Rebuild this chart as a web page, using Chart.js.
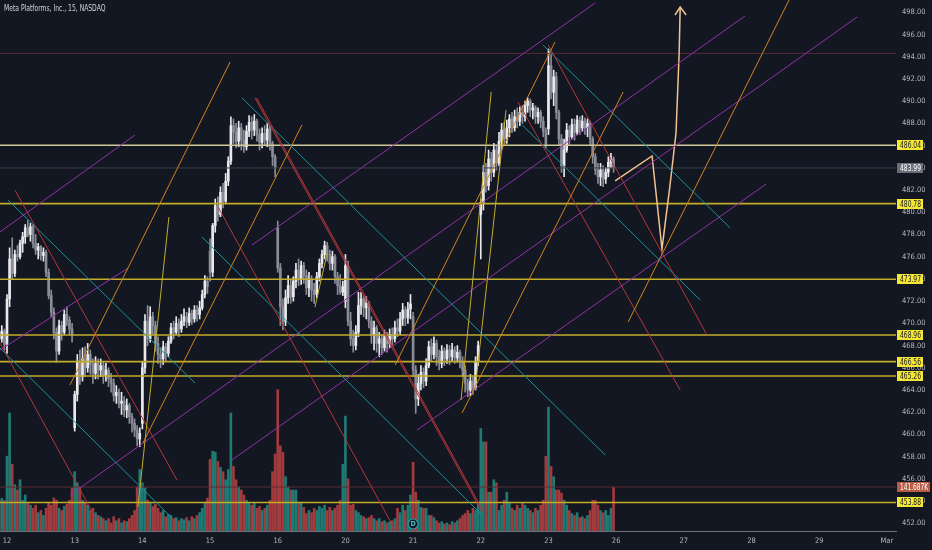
<!DOCTYPE html>
<html>
<head>
<meta charset="utf-8">
<script src="https://cdn.jsdelivr.net/npm/chart.js@4.4.1/dist/chart.umd.min.js"></script>
<style>
  html, body { margin: 0; padding: 0; background: #131722; }
  #wrap { position: relative; width: 932px; height: 550px; }
  #title { position: absolute; left: 4px; top: 4px; font: 8px 'Liberation Sans Narrow', 'DejaVu Sans Condensed', 'Liberation Sans', sans-serif; color: #d1d4dc; transform: scaleX(0.84); transform-origin: left top; white-space: nowrap; }
</style>
</head>
<body>
<div id="wrap">
  <canvas id="myChart" width="932" height="550"></canvas>
  <div id="title">Meta Platforms, Inc., 15, NASDAQ</div>
</div>
<script>
// 15 min bars: last 3 bars of 9 Feb, then 12-23 Feb (26 bars a day)
const opens = [
  469.2, 468.6, 469.3,
  468.2, 472.2, 475.8, 474.5, 476.2, 476.0, 477.2, 477.8, 478.6, 478.0, 478.7, 477.2, 476.6, 476.9, 476.1, 476.4, 474.6, 472.5, 471.0, 469.2, 467.5, 469.8, 469.2, 470.8, 470.3, 469.5,
  460.6, 463.6, 466.6, 465.2, 466.8, 466.0, 467.2, 466.3, 465.5, 466.4, 465.8, 466.2, 465.3, 465.8, 465.0, 464.6, 463.5, 463.8, 462.8, 463.0, 462.2, 462.6, 461.6, 461.0, 460.4, 459.6,
  461.0, 466.0, 470.2, 468.6, 470.6, 469.8, 468.2, 467.2, 466.8, 467.9, 467.3, 468.4, 469.6, 469.2, 470.0, 469.5, 470.2, 470.6, 470.1, 470.9, 470.4, 471.2, 470.8, 471.4, 472.6, 473.8,
  476.5, 474.6, 478.8, 480.6, 479.8, 481.8, 481.0, 482.8, 484.6, 487.8, 487.2, 486.4, 487.6, 486.5, 485.9, 487.3, 488.1, 487.4, 488.2, 487.0, 486.3, 487.1, 486.5, 487.5, 486.2, 485.0,
  478.6, 475.0, 471.5, 470.2, 472.3, 473.4, 472.4, 473.8, 474.8, 474.0, 475.2, 474.3, 473.2, 474.0, 473.0, 472.6, 474.2, 475.4, 476.2, 477.0, 476.2, 475.4, 476.0, 474.2, 473.4, 472.8,
  472.0, 475.2, 470.2, 468.6, 468.0, 469.2, 471.6, 472.2, 471.4, 471.8, 470.2, 469.0, 469.6, 468.2, 468.6, 467.8, 468.8, 468.2, 469.0, 468.6, 469.6, 469.3, 470.4, 471.2, 470.5, 471.3,
  470.6, 465.8, 463.2, 464.6, 465.6, 464.8, 466.2, 467.9, 467.2, 468.2, 467.0, 466.4, 467.5, 466.8, 467.6, 467.0, 467.6, 466.9, 467.4, 466.6, 465.8, 464.6, 464.0, 464.8, 464.2, 466.6,
  479.8, 480.9, 483.6, 482.4, 484.8, 483.6, 485.6, 484.4, 486.4, 487.4, 486.6, 487.6, 488.4, 487.6, 488.6, 488.2, 489.0, 488.6, 489.6, 490.0, 489.2, 489.4, 488.6, 489.0, 488.2, 487.3,
  487.5, 493.2, 490.8, 492.2, 489.0, 486.6, 484.2, 485.6, 487.4, 486.8, 487.9, 487.2, 488.3, 487.6, 488.2, 487.6, 488.0, 486.6, 485.0, 483.8, 483.2, 483.8, 483.0, 483.6, 484.5, 484.8
]
const highs = [
  470.0, 469.8, 469.5,
  472.6, 476.8, 477.7, 476.6, 477.0, 477.5, 478.2, 478.9, 479.3, 479.0, 478.9, 478.0, 477.2, 477.0, 476.8, 476.6, 474.9, 473.0, 471.4, 469.6, 470.3, 470.2, 471.2, 471.5, 470.6, 470.0,
  463.9, 467.2, 467.6, 467.8, 467.9, 468.2, 467.6, 466.8, 467.0, 466.8, 466.8, 466.5, 466.4, 466.0, 465.5, 465.0, 464.4, 464.1, 463.8, 463.4, 463.2, 462.8, 461.9, 461.4, 460.8, 460.6,
  466.5, 470.8, 471.6, 471.5, 471.0, 470.2, 468.8, 467.8, 468.4, 468.2, 468.8, 470.0, 470.2, 470.6, 470.4, 470.8, 471.3, 471.0, 471.4, 471.2, 471.6, 471.6, 472.0, 473.0, 474.3, 474.2,
  477.6, 479.0, 481.2, 481.4, 482.3, 482.6, 483.5, 485.0, 488.6, 488.4, 488.0, 488.2, 488.0, 487.4, 487.8, 488.7, 488.6, 488.8, 488.4, 487.5, 487.6, 487.8, 488.0, 487.8, 486.4, 485.2,
  479.2, 475.4, 472.2, 473.0, 474.3, 474.0, 474.2, 475.4, 475.8, 475.6, 475.5, 474.8, 474.6, 474.3, 473.6, 474.6, 475.8, 476.6, 477.4, 477.3, 476.6, 476.5, 476.2, 474.6, 474.4, 473.8,
  476.2, 475.6, 471.0, 469.4, 469.8, 472.8, 472.8, 472.5, 472.4, 472.0, 470.6, 470.2, 469.8, 469.2, 469.0, 469.4, 469.2, 469.5, 469.6, 470.2, 470.4, 471.0, 471.8, 471.5, 471.9, 472.6,
  471.0, 466.2, 465.4, 466.2, 466.0, 466.8, 468.4, 468.6, 468.8, 468.5, 467.6, 468.0, 467.8, 468.1, 468.0, 468.2, 467.9, 468.0, 467.6, 467.0, 466.2, 465.0, 465.4, 465.2, 467.0, 468.4,
  481.2, 484.2, 484.4, 485.6, 485.4, 486.2, 486.0, 487.2, 488.0, 488.1, 488.3, 488.8, 489.0, 489.2, 489.4, 489.5, 489.6, 490.0, 490.3, 490.2, 489.8, 489.6, 489.4, 489.2, 488.6, 487.6,
  494.7, 494.2, 492.8, 492.6, 489.2, 487.0, 486.6, 488.0, 487.8, 488.4, 488.4, 488.7, 488.6, 488.7, 488.5, 488.4, 488.2, 486.8, 485.3, 484.4, 484.4, 484.2, 484.0, 485.0, 485.3, 485.0
]
const lows = [
  468.4, 468.3, 467.6,
  467.3, 471.5, 474.0, 474.2, 475.6, 475.8, 476.4, 477.2, 477.8, 477.4, 476.8, 476.2, 475.8, 475.7, 475.6, 474.2, 472.2, 470.6, 468.6, 466.5, 467.2, 468.5, 469.0, 469.8, 469.0, 468.3,
  460.3, 463.0, 464.5, 464.8, 465.2, 465.6, 465.4, 464.6, 465.0, 465.0, 465.2, 464.6, 464.8, 464.3, 463.8, 463.0, 462.8, 462.4, 461.8, 461.6, 461.5, 461.0, 460.2, 459.8, 459.0, 458.9,
  460.5, 465.5, 468.0, 468.3, 469.0, 467.5, 466.4, 466.0, 466.3, 466.6, 467.0, 468.2, 468.6, 469.0, 468.8, 469.2, 469.8, 469.6, 469.8, 469.9, 470.1, 470.2, 470.4, 471.2, 472.3, 472.7,
  473.8, 474.2, 478.2, 479.2, 479.6, 480.4, 480.8, 482.4, 484.3, 486.2, 485.8, 485.9, 485.6, 485.4, 485.6, 486.8, 486.6, 486.9, 486.4, 485.6, 485.8, 486.0, 485.9, 485.6, 484.2, 483.2,
  474.6, 469.8, 469.4, 469.8, 471.8, 471.8, 472.0, 473.2, 473.4, 473.5, 473.6, 472.6, 472.4, 472.0, 471.8, 472.3, 473.8, 475.0, 475.8, 475.6, 474.8, 474.8, 473.6, 472.6, 472.6, 472.5,
  471.4, 469.8, 468.0, 467.4, 467.6, 468.8, 470.8, 470.6, 470.4, 469.6, 468.2, 467.6, 467.4, 467.0, 467.2, 467.5, 467.4, 467.8, 468.0, 468.3, 468.8, 469.0, 469.8, 469.8, 470.0, 470.4,
  465.2, 461.9, 462.6, 464.0, 464.2, 464.4, 466.0, 466.6, 466.8, 466.2, 465.8, 466.0, 466.2, 466.4, 466.3, 466.6, 466.4, 466.5, 466.0, 465.2, 463.8, 463.4, 463.5, 463.6, 464.0, 466.2,
  475.8, 480.2, 481.8, 482.0, 482.8, 483.2, 483.8, 484.2, 485.6, 486.0, 486.2, 486.8, 487.2, 487.3, 487.6, 487.8, 488.0, 488.2, 489.0, 488.6, 488.4, 488.0, 488.0, 487.6, 486.8, 485.8,
  487.0, 490.2, 489.6, 488.4, 486.0, 483.6, 483.2, 485.4, 486.1, 486.6, 486.5, 487.0, 487.0, 487.3, 487.0, 486.8, 486.0, 484.4, 483.4, 482.6, 482.4, 482.3, 482.6, 483.2, 484.0, 483.6
]
const closes = [
  468.6, 469.3, 468.1,
  472.2, 475.8, 474.5, 476.2, 476.0, 477.2, 477.8, 478.6, 478.0, 478.7, 477.2, 476.6, 476.9, 476.1, 476.4, 474.6, 472.5, 471.0, 469.2, 467.5, 469.8, 469.2, 470.8, 470.3, 469.5, 468.9,
  463.6, 466.6, 465.2, 466.8, 466.0, 467.2, 466.3, 465.5, 466.4, 465.8, 466.2, 465.3, 465.8, 465.0, 464.6, 463.5, 463.8, 462.8, 463.0, 462.2, 462.6, 461.6, 461.0, 460.4, 459.6, 460.1,
  466.0, 470.2, 468.6, 470.6, 469.8, 468.2, 467.2, 466.8, 467.9, 467.3, 468.4, 469.6, 469.2, 470.0, 469.5, 470.2, 470.6, 470.1, 470.9, 470.4, 471.2, 470.8, 471.4, 472.6, 473.8, 473.3,
  474.6, 478.8, 480.6, 479.8, 481.8, 481.0, 482.8, 484.6, 487.8, 487.2, 486.4, 487.6, 486.5, 485.9, 487.3, 488.1, 487.4, 488.2, 487.0, 486.3, 487.1, 486.5, 487.5, 486.2, 485.0, 484.0,
  475.0, 471.5, 470.2, 472.3, 473.4, 472.4, 473.8, 474.8, 474.0, 475.2, 474.3, 473.2, 474.0, 473.0, 472.6, 474.2, 475.4, 476.2, 477.0, 476.2, 475.4, 476.0, 474.2, 473.4, 472.8, 473.3,
  475.2, 470.2, 468.6, 468.0, 469.2, 471.6, 472.2, 471.4, 471.8, 470.2, 469.0, 469.6, 468.2, 468.6, 467.8, 468.8, 468.2, 469.0, 468.6, 469.6, 469.3, 470.4, 471.2, 470.5, 471.3, 471.75,
  465.8, 463.2, 464.6, 465.6, 464.8, 466.2, 467.9, 467.2, 468.2, 467.0, 466.4, 467.5, 466.8, 467.6, 467.0, 467.6, 466.9, 467.4, 466.6, 465.8, 464.6, 464.0, 464.8, 464.2, 466.6, 468.0,
  480.9, 483.6, 482.4, 484.8, 483.6, 485.6, 484.4, 486.4, 487.4, 486.6, 487.6, 488.4, 487.6, 488.6, 488.2, 489.0, 488.6, 489.6, 490.0, 489.2, 489.4, 488.6, 489.0, 488.2, 487.3, 486.1,
  493.2, 490.8, 492.2, 489.0, 486.6, 484.2, 485.6, 487.4, 486.8, 487.9, 487.2, 488.3, 487.6, 488.2, 487.6, 488.0, 486.6, 485.0, 483.8, 483.2, 483.8, 483.0, 483.6, 484.5, 484.8, 484.03
]
// volume in thousands
const volumes = [
  100, 105, 98,
  241, 380, 215, 149, 132, 165, 99, 116, 92, 83, 73, 83, 59, 66, 50, 73, 92, 83, 106, 99, 73, 66, 79, 86, 99, 139,
  191, 155, 142, 99, 92, 83, 66, 73, 59, 50, 46, 40, 33, 40, 26, 46, 33, 40, 26, 33, 30, 40, 50, 66, 142, 198,
  155, 139, 99, 92, 79, 86, 73, 59, 66, 46, 53, 50, 40, 43, 33, 40, 36, 43, 33, 46, 40, 50, 59, 73, 92, 106,
  231, 257, 254, 224, 205, 191, 165, 198, 380, 208, 165, 142, 132, 116, 99, 92, 83, 92, 73, 79, 66, 73, 83, 99, 191, 248,
  455, 274, 254, 175, 142, 132, 132, 132, 89, 89, 76, 56, 66, 59, 73, 66, 79, 73, 83, 66, 76, 66, 73, 83, 99, 215,
  370, 168, 83, 86, 66, 59, 50, 46, 40, 43, 50, 40, 33, 40, 30, 33, 26, 30, 33, 40, 73, 59, 83, 66, 83, 116,
  221, 125, 99, 76, 73, 73, 50, 50, 43, 33, 26, 30, 23, 26, 20, 30, 26, 33, 40, 50, 56, 66, 56, 73, 66, 89,
  330, 287, 287, 125, 125, 165, 155, 66, 83, 99, 125, 92, 73, 66, 83, 73, 92, 83, 73, 66, 59, 73, 66, 83, 99, 241,
  399, 208, 175, 132, 132, 122, 99, 83, 66, 56, 50, 59, 43, 46, 40, 50, 66, 99, 99, 83, 66, 59, 66, 50, 73, 141.687
]

const dayTicks = [3, 29, 55, 81, 107, 133, 159, 185, 211, 237, 263, 289, 315, 341]
const dayLabels = ['12', '13', '14', '15', '16', '20', '21', '22', '23', '26', '27', '28', '29', 'Mar']

const levels = [486.04, 480.78, 473.97, 468.96, 466.56, 465.26, 453.88]
const lastPrice = 483.99
const redLevel = 494.3
const lastVolume = 141.687
const dividendBar = 159

// drawn lines: [bar, price, bar, price]
const orangeLines = [
  [27.2, 464.46, 88.7, 493.53],
  [55.25, 459.23, 116.3, 487.86],
  [152.1, 466.25, 213.5, 495.33],
  [177.8, 461.93, 239.7, 490.83],
  [241.6, 470.12, 303.4, 499.11]
]
const yellowLines = [
  [53.3, 453.47, 65.2, 479.57],
  [177.4, 463.1, 189.0, 490.83],
  [182.8, 464.0, 194.7, 489.2],
  [121.3, 471.47, 126.0, 476.33]
]
const redLines = [
  [6.07, 482.0, 68.3, 455.9],
  [0.31, 468.23, 39.5, 451.4],
  [98.3, 490.29, 185.5, 453.02],
  [98.9, 490.29, 186.1, 453.02],
  [84.1, 480.47, 152.1, 451.4],
  [199.3, 489.93, 261.6, 464.0],
  [210.9, 495.06, 271.9, 468.95]
]
const tealLines = [
  [3.4, 481.1, 75.2, 464.63],
  [0.31, 467.78, 66.4, 452.48],
  [93.3, 490.29, 232.8, 458.15],
  [77.9, 477.77, 185.5, 452.75],
  [208.9, 495.06, 280.8, 478.59],
  [200.9, 487.86, 269.3, 472.1]
]
const purpleLines = [
  [0.31, 478.23, 52.2, 486.96],
  [0.31, 467.6, 49.5, 474.98],
  [27.2, 454.55, 286.5, 497.67],
  [97.1, 477.05, 228.9, 498.84],
  [89.4, 457.7, 329.6, 497.58],
  [160.5, 460.4, 294.6, 482.54]
]
const forecastPath = [[236.6, 482.82], [250.8, 485.07], [254.6, 476.7], [257.7, 482.46], [260.0, 487.14], [261.2, 494.34], [261.6, 498.48]]
const arrowHead = [[259.6, 497.76], [261.6, 498.48], [263.9, 497.76]]

const xMin = 0.31, xMax = 344.5
const yMin = 451.31, yMax = 499.11
const volMax = 1710

const fontFam = "'Liberation Sans Narrow', 'DejaVu Sans Condensed', 'Liberation Sans', sans-serif"
const upColor = '#e9e9ec'
const downColor = '#8a8d97'

const isUp = closes.map((c, i) => c >= opens[i])
const candleColors = isUp.map(u => u ? upColor : downColor)
const volColors = isUp.map(u => u ? '#1f7a74' : '#a33b3e')

function seg(l, color, width) {
  return {
    type: 'line', data: [{ x: l[0], y: l[1] }, { x: l[2], y: l[3] }],
    borderColor: color, borderWidth: width || 1, pointRadius: 0, yAxisID: 'y', order: 0
  }
}
function hline(v, color, width, axis) {
  return {
    type: 'line', data: [{ x: xMin, y: v }, { x: xMax, y: v }],
    borderColor: color, borderWidth: width, pointRadius: 0, yAxisID: axis || 'y', order: 1
  }
}

const datasets = [
  {
    type: 'bar', yAxisID: 'y1', order: 5, grouped: false, barThickness: 2,
    data: volumes.map((v, i) => ({ x: i, y: v })), backgroundColor: volColors
  },
  {
    type: 'bar', yAxisID: 'y', order: 3, grouped: false, barThickness: 1,
    data: closes.map((c, i) => ({ x: i, y: [lows[i], highs[i]] })), backgroundColor: candleColors
  },
  {
    type: 'bar', yAxisID: 'y', order: 2, grouped: false, barThickness: 2, minBarLength: 1,
    data: closes.map((c, i) => ({ x: i, y: [opens[i], c] })), backgroundColor: candleColors
  },
  hline(redLevel, '#532a33', 1),
  hline(lastVolume, '#5c2a31', 1, 'y1'),
  hline(lastPrice, '#3b3f4b', 1),
  hline(levels[0], '#cfc897', 1.6)
]
levels.slice(1).forEach(v => datasets.push(hline(v, '#c4ad2b', 1.6)))
orangeLines.forEach(l => datasets.push(seg(l, '#d0861f')))
yellowLines.forEach(l => datasets.push(seg(l, '#c4ad2b')))
redLines.forEach(l => datasets.push(seg(l, '#b5373a')))
tealLines.forEach(l => datasets.push(seg(l, '#17939e')))
purpleLines.forEach(l => datasets.push(seg(l, '#9431a8')))
datasets.push({
  type: 'line', data: forecastPath.map(p => ({ x: p[0], y: p[1] })),
  borderColor: '#f2c38f', borderWidth: 1.5, pointRadius: 0, yAxisID: 'y', order: 0
})
datasets.push({
  type: 'line', data: arrowHead.map(p => ({ x: p[0], y: p[1] })),
  borderColor: '#f2c38f', borderWidth: 1.5, pointRadius: 0, yAxisID: 'y', order: 0
})

const tagPlugin = {
  id: 'tags',
  afterDatasetsDraw(chart) {
    const ctx = chart.ctx
    const sx = chart.scales.x
    // dividend marker
    const dx = sx.getPixelForValue(dividendBar), dy = chart.chartArea.bottom - 7
    ctx.save()
    ctx.beginPath()
    ctx.arc(dx, dy, 5, 0, Math.PI * 2)
    ctx.fillStyle = '#131722'
    ctx.fill()
    ctx.lineWidth = 1.2
    ctx.strokeStyle = '#2a9db0'
    ctx.stroke()
    ctx.fillStyle = '#4fb8c8'
    ctx.font = 'bold 7px ' + fontFam
    ctx.textAlign = 'center'
    ctx.textBaseline = 'middle'
    ctx.fillText('D', dx, dy + 0.5)
    ctx.restore()
  },
  afterDraw(chart) {
    const ctx = chart.ctx
    const sy = chart.scales.y, sv = chart.scales.y1
    const left = chart.chartArea.right + 1
    function tag(y, text, bg, fg, w) {
      ctx.fillStyle = bg
      ctx.fillRect(left, Math.round(y) - 5, w, 10)
      ctx.fillStyle = fg
      ctx.font = '8px ' + fontFam
      ctx.textAlign = 'left'
      ctx.textBaseline = 'middle'
      ctx.fillText(text, left + 3, Math.round(y) + 0.5, w - 5)
    }
    ctx.save()
    levels.forEach(v => tag(sy.getPixelForValue(v), v.toFixed(2), '#f4e634', '#131722', 26))
    tag(sy.getPixelForValue(lastPrice), lastPrice.toFixed(2), '#6b6e79', '#ffffff', 26)
    tag(sv.getPixelForValue(lastVolume), lastVolume.toFixed(3) + 'K', '#b95c46', '#ffffff', 33)
    ctx.restore()
  }
}

const ctx = document.getElementById('myChart')
const myChart = new Chart(ctx, {
  type: 'bar',
  data: { datasets: datasets },
  options: {
    responsive: false,
    devicePixelRatio: 1,
    animation: false,
    layout: { padding: 0 },
    plugins: { legend: { display: false }, tooltip: { enabled: false } },
    scales: {
      x: {
        type: 'linear', min: xMin, max: xMax, offset: false,
        grid: { display: false, drawTicks: false },
        border: { display: true, color: '#6f727c' },
        ticks: {
          autoSkip: false, maxRotation: 0, color: '#b2b5be', padding: 6,
          font: { size: 7.5, family: fontFam },
          callback: (v, i) => dayLabels[i]
        },
        afterBuildTicks: s => { s.ticks = dayTicks.map(v => ({ value: v })) },
        afterFit: s => { s.height = 19; s.paddingLeft = 0; s.paddingRight = 0 }
      },
      y: {
        type: 'linear', position: 'right', min: yMin, max: yMax,
        grid: { display: false, drawTicks: false },
        border: { display: false },
        ticks: {
          stepSize: 2, includeBounds: false, autoSkip: false, color: '#b2b5be', padding: 6,
          font: { size: 7.5, family: fontFam },
          callback: v => v.toFixed(2)
        },
        afterFit: s => { s.width = 36; s.paddingTop = 0; s.paddingBottom = 0 }
      },
      y1: { type: 'linear', display: false, min: 0, max: volMax }
    }
  },
  plugins: [tagPlugin]
})
</script>
</body>
</html>
